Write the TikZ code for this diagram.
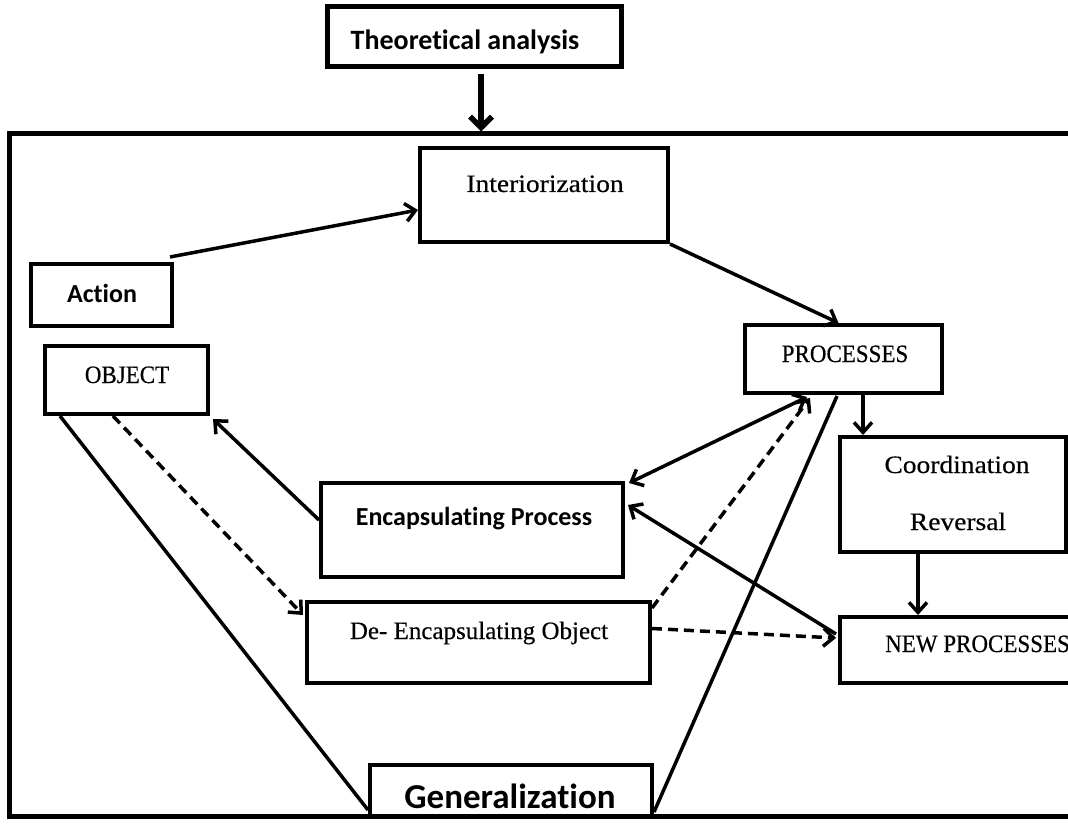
\documentclass[tikz,border=0pt]{standalone}
\usepackage{fontspec}
\newfontfamily\labsans[Ligatures=NoCommon]{Carlito}
\newfontfamily\labserif[FakeBold=0.4]{Liberation Serif}
\newfontfamily\labserifwide[FakeBold=0.4,FakeStretch=1.1]{Liberation Serif}
\newfontfamily\labserifnarrow[FakeBold=0.4,FakeStretch=0.92]{Liberation Serif}
\usetikzlibrary{arrows.meta,calc}
\begin{document}
\begin{tikzpicture}[x=1pt,y=-1pt,
  box/.style={draw=black, line width=4pt, fill=white, inner sep=0pt, rectangle},
  sanslab/.style={font=\labsans\bfseries\fontsize{26}{30}\selectfont, inner sep=0pt, anchor=base},
  seriflab/.style={font=\labserif\fontsize{25}{29}\selectfont, inner sep=0pt, anchor=base},
  serifwide/.style={seriflab, font=\labserifwide\fontsize{25}{29}\selectfont},
  serifnarrow/.style={seriflab, font=\labserifnarrow\fontsize{25}{29}\selectfont},
  link/.style={line width=3.5pt, -{Straight Barb[length=10pt,width=18pt]}},
  bilink/.style={line width=3.5pt, {Straight Barb[length=10pt,width=18pt]}-{Straight Barb[length=10pt,width=18pt]}},
  plain/.style={line width=3.5pt},
  dashlink/.style={link, dash pattern=on 10pt off 6pt}]

\useasboundingbox (0,0) rectangle (1068,826);
\clip (0,0) rectangle (1068,826);

% outer frame of the model
\node[draw=black, line width=5pt, inner sep=0pt, minimum width=1081pt, minimum height=682pt] (frame) at (549.5,475) {};

% boxes
\node[box, line width=5pt, minimum width=294pt, minimum height=60pt] (theo) at (474,37) {};
\node[box, minimum width=248pt, minimum height=94pt] (inter) at (544,195) {};
\node[box, minimum width=141pt, minimum height=62pt] (action) at (101.5,295) {};
\node[box, minimum width=163pt, minimum height=68pt] (obj) at (126.5,380) {};
\node[box, minimum width=197pt, minimum height=68pt] (proc) at (843.5,359) {};
\node[box, minimum width=226pt, minimum height=115pt] (coord) at (953,494.5) {};
\node[box, minimum width=302pt, minimum height=94pt] (enc) at (472,530) {};
\node[box, minimum width=343pt, minimum height=81pt] (deenc) at (478.5,642.5) {};
\node[box, minimum width=250pt, minimum height=66pt] (newp) at (965,650) {};
\node[box, minimum width=282pt, minimum height=51pt] (gen) at (511,790.5) {};

% labels
\node[sanslab, font=\labsans\bfseries\fontsize{28}{32}\selectfont] (theo-t) at (465,50) {Theoretical analysis};
\node[serifwide] (inter-t) at (545,192) {Interiorization};
\node[sanslab] (action-t) at (102,302) {Action};
\node[serifnarrow] (obj-t) at (127,383) {OBJECT};
\node[serifnarrow] (proc-t) at (845,362) {PROCESSES};
\node[serifwide] (coord-t1) at (957,473) {Coordination};
\node[serifwide] (coord-t2) at (958,530) {Reversal};
\node[sanslab] (enc-t) at (474,525) {Encapsulating Process};
\node[seriflab] (deenc-t) at (479,639) {De- Encapsulating Object};
\node[serifnarrow, anchor=base west] (newp-t) at (885,652) {NEW PROCESSES};
\node[sanslab, font=\labsans\bfseries\fontsize{35}{40}\selectfont] (gen-t) at (510,808) {Generalization};

% entry arrow into the frame
\coordinate (ta) at ($(theo.south)+(7,0)$);
\draw[line width=5.5pt, -{Straight Barb[length=11pt,width=22pt]}, shorten <=5pt] (ta) -- (ta |- frame.north);

% connectors
\draw[link] ($(action.north east)+(-4,-5)$) -- ($(inter.west)+(0,15)$);
\draw[link] (inter.south east) -- ($(proc.north)+(-5,0)$);
\coordinate (p4) at ($(proc.south)+(19.5,0)$);
\draw[link] (p4) -- (p4 |- coord.north);
\coordinate (c5) at ($(coord.south)+(-35,0)$);
\draw[link] (c5) -- (c5 |- newp.north);
\draw[link] ($(enc.west)+(0,-10)$) -- ($(obj.south east)+(3,3)$);
\draw[dashlink] ($(obj.south west)+(70,0)$) -- ($(deenc.north west)+(-2,15)$);
\draw[plain] ($(obj.south west)+(17,0)$) -- ($(gen.south west)+(0,-8)$);
\draw[bilink] ($(proc.south west)+(64,2)$) -- ($(enc.north east)+(4,2)$);
\draw[dashlink] ($(deenc.north east)+(0,8)$) -- ($(proc.south west)+(67,3)$);
\draw[link] ($(newp.north west)+(-2,19)$) -- ($(enc.east)+(3,-25)$);
\draw[dashlink] ($(deenc.east)+(0,-14)$) -- ($(newp.west)+(-2,-12)$);
\draw[plain] ($(proc.south west)+(94,1)$) -- ($(gen.south east)+(0,-6)$);
\end{tikzpicture}
\end{document}
